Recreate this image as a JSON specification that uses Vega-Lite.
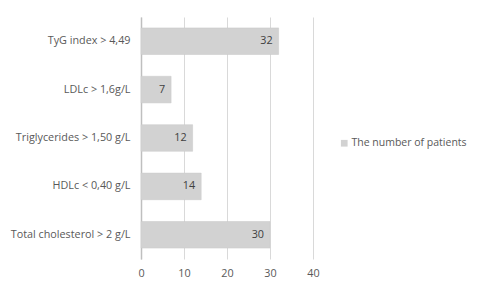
{
  "$schema": "https://vega.github.io/schema/vega-lite/v6.json",
  "width": 172,
  "height": 242,
  "autosize": {"type": "none"},
  "padding": {"left": 141, "top": 17, "right": 168, "bottom": 35},
  "background": "white",
  "config": {
    "font": "Open Sans",
    "view": {"stroke": null},
    "axis": {"labelFont": "Open Sans", "labelFontSize": 10.8, "labelColor": "#595959"}
  },
  "data": {
    "values": [
      {"category": "TyG index > 4,49", "value": 32, "series": "The number of patients"},
      {"category": "LDLc > 1,6g/L", "value": 7, "series": "The number of patients"},
      {"category": "Triglycerides > 1,50 g/L", "value": 12, "series": "The number of patients"},
      {"category": "HDLc < 0,40 g/L", "value": 14, "series": "The number of patients"},
      {"category": "Total cholesterol  > 2 g/L", "value": 30, "series": "The number of patients"}
    ]
  },
  "encoding": {
    "y": {
      "field": "category", "type": "nominal", "sort": null, "title": null,
      "scale": {"paddingInner": 0.45, "paddingOuter": 0.225},
      "axis": {"ticks": false, "domainColor": "#bfbfbf", "domainWidth": 1.5, "labelPadding": 11, "labelLimit": 200}
    },
    "x": {
      "field": "value", "type": "quantitative", "title": null,
      "scale": {"domain": [0, 40]},
      "axis": {"values": [0, 10, 20, 30, 40], "ticks": false, "domain": false, "grid": true, "gridColor": "#d9d9d9", "labelPadding": 8, "labelFontSize": 10.8, "labelFlush": false}
    }
  },
  "layer": [
    {
      "mark": {"type": "bar", "stroke": "#c8c8c8", "strokeWidth": 0.5},
      "encoding": {
        "color": {
          "field": "series", "type": "nominal",
          "scale": {"range": ["#d2d2d2"]},
          "legend": {
            "title": null, "orient": "none", "legendX": 198, "legendY": 121,
            "symbolType": "square", "symbolSize": 45, "symbolStrokeWidth": 0,
            "labelFont": "Open Sans", "labelFontSize": 10.5, "labelColor": "#595959", "labelOffset": 2
          }
        }
      }
    },
    {
      "mark": {"type": "text", "align": "right", "dx": -6, "fontSize": 10.8, "color": "#404040", "font": "Open Sans"},
      "encoding": {"text": {"field": "value", "type": "quantitative"}}
    }
  ]
}
